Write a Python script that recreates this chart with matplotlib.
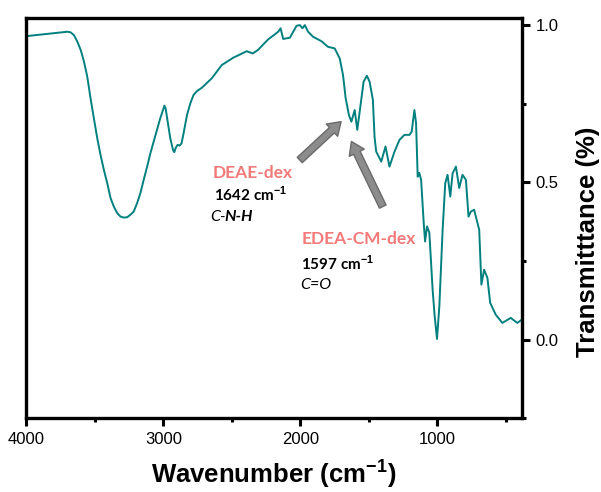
import matplotlib.pyplot as plt
from matplotlib.ticker import MultipleLocator

plt.rcParams['font.family'] = ['Liberation Sans', 'DejaVu Sans']
plt.rcParams['mathtext.fontset'] = 'custom'
plt.rcParams['mathtext.rm'] = 'Liberation Sans'
plt.rcParams['mathtext.bf'] = 'Liberation Sans:bold'

# FTIR spectrum
wavenumber = [4000, 3701, 3677, 3653, 3628, 3604, 3580, 3556, 3532, 3508, 3483, 3459,
              3435, 3410, 3386, 3362, 3337, 3313, 3289, 3265, 3241, 3217, 3192, 3168,
              3144, 3119, 3095, 3071, 3047, 3023, 3003, 2993, 2984, 2969, 2950, 2930,
              2921, 2911, 2897, 2882, 2868, 2853, 2828, 2804, 2780, 2756, 2719, 2647,
              2574, 2492, 2392, 2348, 2310, 2237, 2162, 2145, 2126, 2077, 2028, 2004,
              1985, 1968, 1944, 1908, 1847, 1799, 1750, 1713, 1689, 1670, 1646, 1628,
              1604, 1585, 1561, 1539, 1515, 1495, 1471, 1459, 1447, 1410, 1379, 1350,
              1313, 1277, 1241, 1204, 1188, 1168, 1156, 1144, 1132, 1119, 1100, 1090,
              1076, 1059, 1035, 1020, 1003, 986, 962, 943, 926, 906, 889, 865, 841, 817,
              792, 773, 756, 732, 695, 679, 659, 635, 615, 574, 526, 465, 417, 385]
transmittance = [0.965, 0.979, 0.977, 0.968, 0.947, 0.921, 0.884, 0.836, 0.767, 0.704,
                 0.640, 0.587, 0.540, 0.497, 0.450, 0.423, 0.402, 0.391, 0.388, 0.389,
                 0.397, 0.407, 0.434, 0.466, 0.508, 0.550, 0.593, 0.630, 0.667, 0.704,
                 0.730, 0.744, 0.735, 0.693, 0.640, 0.603, 0.596, 0.609, 0.619, 0.617,
                 0.624, 0.656, 0.714, 0.751, 0.778, 0.790, 0.801, 0.831, 0.873, 0.896,
                 0.917, 0.910, 0.921, 0.954, 0.979, 0.990, 0.956, 0.960, 0.998, 1.000,
                 0.990, 1.000, 0.979, 0.963, 0.949, 0.931, 0.926, 0.894, 0.841, 0.768,
                 0.714, 0.693, 0.730, 0.667, 0.746, 0.820, 0.839, 0.820, 0.762, 0.645,
                 0.598, 0.566, 0.614, 0.550, 0.598, 0.635, 0.651, 0.651, 0.661, 0.730,
                 0.689, 0.518, 0.530, 0.508, 0.371, 0.312, 0.360, 0.340, 0.159, 0.074,
                 0.002, 0.106, 0.349, 0.497, 0.524, 0.455, 0.529, 0.550, 0.482, 0.524,
                 0.508, 0.391, 0.407, 0.413, 0.349, 0.175, 0.222, 0.196, 0.117, 0.079,
                 0.053, 0.069, 0.053, 0.063]

fig = plt.figure(figsize=(6.01, 4.92), dpi=100)
ax = fig.add_axes([0.044, 0.15, 0.824, 0.813])

ax.plot(wavenumber, transmittance, color='#00807f', lw=1.4)

ax.set_xlim(4000, 385)
ax.set_ylim(-0.25, 1.022)
ax.xaxis.set_major_locator(MultipleLocator(1000))
ax.xaxis.set_minor_locator(MultipleLocator(500))
ax.yaxis.set_major_locator(MultipleLocator(0.5))
ax.yaxis.set_minor_locator(MultipleLocator(0.25))
ax.yaxis.tick_right()
ax.yaxis.set_label_position('right')
ax.tick_params(which='major', direction='out', length=6, width=2.2, labelsize=12, pad=4)
ax.tick_params(which='minor', direction='out', length=3, width=2.2)
for s in ax.spines.values():
    s.set_linewidth(2.4)

ax.set_xlabel('Wavenumber (cm$^{\\mathbf{-1}}$)', fontsize=18.5, fontweight='bold', labelpad=7)
ax.set_ylabel('Transmitttance (%)', fontsize=18.5, fontweight='bold', rotation=90,
              ha='center', va='center')
ax.yaxis.set_label_coords(1.133, 0.44)

# annotations
tf = ['Lato', 'DejaVu Sans']
pink = '#f47a7a'
ax.text(0.3755, 0.6125, 'DEAE-dex', transform=ax.transAxes, color=pink, fontsize=12.5,
        fontweight='bold', family=tf, va='center')
ax.text(0.3795, 0.56, '1642 cm$^{\\mathbf{-1}}$', transform=ax.transAxes, color='black',
        fontsize=11, fontweight='bold', family=tf, va='center')
ax.text(0.3715, 0.5025, 'C-', transform=ax.transAxes, fontsize=11.5, style='italic',
        family=tf, va='center')
ax.text(0.4, 0.5025, 'N-H', transform=ax.transAxes, fontsize=11.5, style='italic',
        fontweight='bold', family=tf, va='center')
ax.text(0.555, 0.4475, 'EDEA-CM-dex', transform=ax.transAxes, color=pink, fontsize=12.5,
        fontweight='bold', family=tf, va='center')
ax.text(0.555, 0.3875, '1597 cm$^{\\mathbf{-1}}$', transform=ax.transAxes, color='black',
        fontsize=11, fontweight='bold', family=tf, va='center')
ax.text(0.553, 0.3325, 'C=O', transform=ax.transAxes, fontsize=11.5, style='italic',
        family=tf, va='center')

arrow = dict(arrowstyle='simple,head_length=0.6,head_width=0.8,tail_width=0.35',
             fc='#8c8c8c', ec='#6a6a6a', lw=1, mutation_scale=15, shrinkA=0, shrinkB=0)
ax.annotate('', xy=(1703, 0.693), xytext=(2005, 0.571), arrowprops=arrow)
ax.annotate('', xy=(1628, 0.630), xytext=(1399, 0.423), arrowprops=arrow)

fig.savefig('out.png', dpi=100)
